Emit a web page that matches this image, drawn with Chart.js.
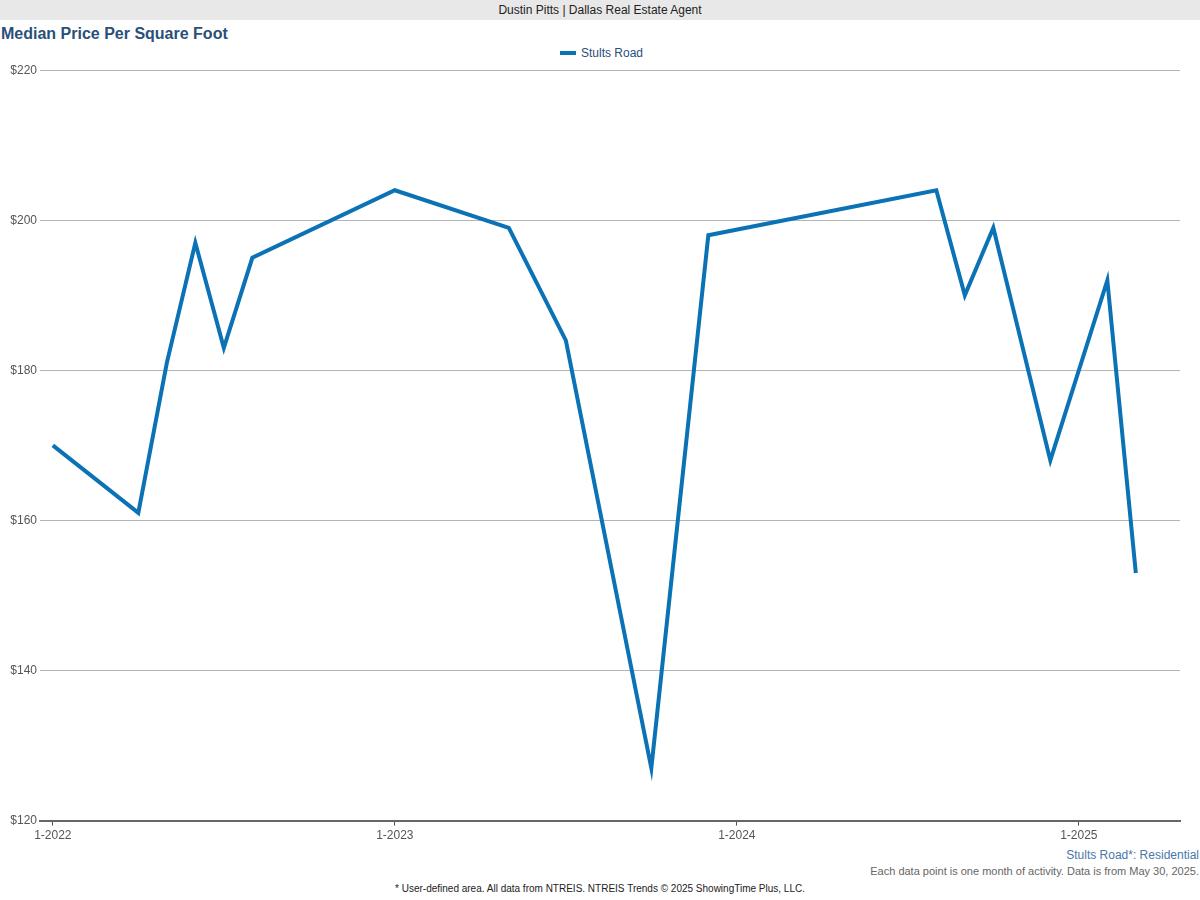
<!DOCTYPE html>
<html>
<head>
<meta charset="utf-8">
<script src="https://cdn.jsdelivr.net/npm/chart.js@4"></script>
<style>
  body { margin: 0; width: 1200px; height: 900px; background: #fff; font-family: "Liberation Sans", Arial, sans-serif; position: relative; overflow: hidden; }
  #banner { position: absolute; left: 0; top: 0; width: 1200px; height: 20px; background: #e8e8e8; font-size: 12px; line-height: 20px; text-align: center; color: #222; }
  #title { position: absolute; left: 1px; top: 25px; font-size: 16px; font-weight: bold; color: #2a4f78; }
  #legend { position: absolute; left: 560px; top: 46px; font-size: 12px; color: #2a4f78; }
  #legend span { display: inline-block; width: 16px; height: 4px; background: #0a72b5; vertical-align: middle; margin-right: 5px; position: relative; top: -1px; }
  #wrap { position: absolute; left: 0; top: 60px; width: 1200px; height: 786px; }
  .foot { position: absolute; font-size: 11px; }
</style>
</head>
<body>
<div id="banner">Dustin Pitts | Dallas Real Estate Agent</div>
<div id="title">Median Price Per Square Foot</div>
<div id="legend"><span></span>Stults Road</div>
<div id="wrap"><canvas id="chart"></canvas></div>
<div class="foot" style="right:1px; top:848px; font-size:12px; color:#4a78a8;">Stults Road*: Residential</div>
<div class="foot" style="right:1px; top:865px; color:#666;">Each data point is one month of activity. Data is from May 30, 2025.</div>
<div class="foot" style="left:0; width:1200px; text-align:center; top:883px; font-size:10px; color:#222;">* User-defined area. All data from NTREIS. NTREIS Trends © 2025 ShowingTime Plus, LLC.</div>
<script>
// month index from Jan 2022
const months = [0, 3, 4, 5, 6, 7, 12, 16, 18, 21, 23, 31, 32, 33, 35, 37, 38];
const prices = [170, 161, 181, 197, 183, 195, 204, 199, 184, 127, 198, 204, 190, 199, 168, 192, 153];
const tickMonths = [0, 12, 24, 36];
const tickLabels = ['1-2022', '1-2023', '1-2024', '1-2025'];

const points = months.map((m, i) => ({ x: m, y: prices[i] }));

new Chart(document.getElementById('chart'), {
    type: 'line',
    data: {
        datasets: [{
            label: 'Stults Road',
            data: points,
            borderColor: '#0a72b5',
            borderWidth: 4,
            pointRadius: 0,
            tension: 0,
            fill: false
        }]
    },
    options: {
        responsive: true,
        maintainAspectRatio: false,
        animation: false,
        layout: { padding: { top: 7, right: 20, left: 0, bottom: 0 } },
        plugins: { legend: { display: false }, tooltip: { enabled: false } },
        scales: {
            x: {
                type: 'linear',
                min: -0.45,
                max: 39.55,
                afterBuildTicks: axis => { axis.ticks = tickMonths.map(v => ({ value: v })); },
                ticks: {
                    color: '#555',
                    font: { family: 'Liberation Sans', size: 12 },
                    maxRotation: 0,
                    callback: v => tickLabels[tickMonths.indexOf(v)]
                },
                grid: { drawOnChartArea: false, drawTicks: true, tickLength: 5, color: '#555' },
                border: { color: '#666', width: 2 }
            },
            y: {
                min: 120,
                max: 220,
                afterFit: axis => { axis.width = 40; },
                ticks: {
                    stepSize: 20,
                    color: '#555',
                    font: { family: 'Liberation Sans', size: 12 },
                    callback: v => '$' + v
                },
                grid: { color: '#b4b4b4', drawTicks: false },
                border: { display: false }
            }
        }
    }
});
</script>
</body>
</html>
